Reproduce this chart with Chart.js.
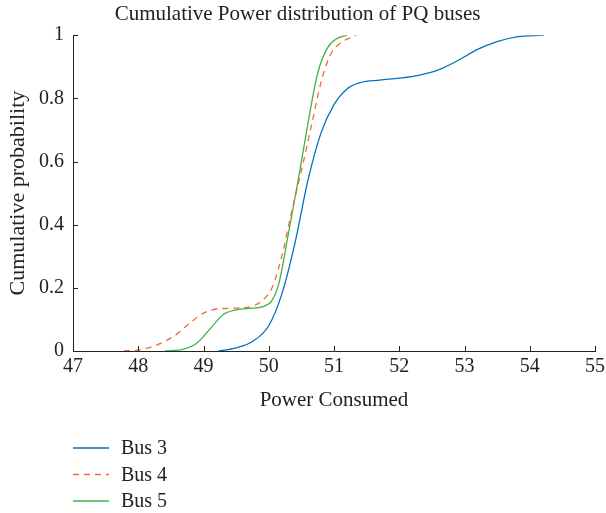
<!DOCTYPE html>
<html>
<head>
<meta charset="utf-8">
<script src="https://cdn.jsdelivr.net/npm/chart.js@4.4.0/dist/chart.umd.min.js"></script>
<style>
	html, body { margin: 0; padding: 0; background: #fff; }
	#wrap { width: 606px; height: 513px; }
</style>
</head>
<body>
<div id="wrap"><canvas id="chart1" width="606" height="513"></canvas></div>
<script>
// data
var seriesNames = ['Bus 3', 'Bus 4', 'Bus 5'];

var bus3X = [49.23, 49.5, 49.75, 50.0, 50.2, 50.4, 50.6, 50.8, 51.0, 51.2, 51.4, 51.7, 52.0, 52.3, 52.6, 52.9, 53.2, 53.5, 53.8, 54.22];
var bus3Y = [0, 0.01, 0.03, 0.08, 0.18, 0.34, 0.54, 0.69, 0.78, 0.83, 0.85, 0.858, 0.864, 0.873, 0.89, 0.92, 0.955, 0.98, 0.995, 1.0];

var bus4X = [47.78, 48.0, 48.2, 48.4, 48.6, 48.8, 49.0, 49.2, 49.5, 49.75, 49.9, 50.05, 50.2, 50.35, 50.5, 50.65, 50.8, 50.95, 51.1, 51.34];
var bus4Y = [0, 0.003, 0.012, 0.03, 0.055, 0.09, 0.12, 0.133, 0.136, 0.142, 0.16, 0.2, 0.3, 0.44, 0.57, 0.71, 0.85, 0.94, 0.975, 1.0];

var bus5X = [48.41, 48.7, 48.9, 49.1, 49.3, 49.5, 49.7, 49.9, 50.05, 50.15, 50.3, 50.45, 50.6, 50.75, 50.9, 51.05, 51.2];
var bus5Y = [0, 0.006, 0.025, 0.07, 0.115, 0.13, 0.135, 0.14, 0.16, 0.21, 0.37, 0.54, 0.72, 0.88, 0.96, 0.99, 1.0];

var xTicks = [47, 48, 49, 50, 51, 52, 53, 54, 55];
var yTicks = [0, 0.2, 0.4, 0.6, 0.8, 1];

var colors = ['#0072BD', '#F26B30', '#3CB44B'];
var serif = '"Liberation Serif", "DejaVu Serif", serif';

function pts(xs, ys) {
	var out = [];
	for (var i = 0; i < xs.length; i++) out.push({ x: xs[i], y: ys[i] });
	return out;
}

// inward tick marks + vertical legend
var extras = {
	id: 'extras',
	afterDraw: function(chart) {
		var c = chart.ctx;
		var xs = chart.scales.x, ys = chart.scales.y;
		var a = chart.chartArea;
		c.save();
		c.strokeStyle = '#222';
		c.lineWidth = 1;
		c.beginPath();
		xTicks.forEach(function(v) {
			var px = Math.round(xs.getPixelForValue(v)) + 0.5;
			c.moveTo(px, a.bottom);
			c.lineTo(px, a.bottom - 5);
		});
		yTicks.forEach(function(v) {
			var py = Math.round(ys.getPixelForValue(v)) + 0.5;
			c.moveTo(a.left, py);
			c.lineTo(a.left + 5, py);
		});
		c.stroke();

		// legend
		c.font = '20px ' + serif;
		c.textBaseline = 'middle';
		chart.data.datasets.forEach(function(ds, i) {
			var y = 448 + i * 26.5;
			c.strokeStyle = ds.borderColor;
			c.lineWidth = 1.3;
			c.setLineDash(ds.borderDash || []);
			c.beginPath();
			c.moveTo(73, y);
			c.lineTo(109, y);
			c.stroke();
			c.setLineDash([]);
			c.fillStyle = '#222';
			c.fillText(ds.label, 121, y + 1);
		});
		c.restore();
	}
};

var config1 = {
	type: 'line',
	data: {
		datasets: [
			{ label: seriesNames[0], data: pts(bus3X, bus3Y), borderColor: colors[0], borderWidth: 1.3, cubicInterpolationMode: 'monotone' },
			{ label: seriesNames[1], data: pts(bus4X, bus4Y), borderColor: colors[1], borderWidth: 1.3, borderDash: [6, 5], cubicInterpolationMode: 'monotone' },
			{ label: seriesNames[2], data: pts(bus5X, bus5Y), borderColor: colors[2], borderWidth: 1.3, cubicInterpolationMode: 'monotone' }
		]
	},
	options: {
		responsive: false,
		animation: false,
		elements: { point: { radius: 0 } },
		layout: { padding: { left: 0, right: 11, top: 0, bottom: 96 } },
		scales: {
			x: {
				type: 'linear',
				min: 47,
				max: 55,
				afterBuildTicks: function(s) { s.ticks = xTicks.map(function(v) { return { value: v }; }); },
				afterFit: function(s) { s.height = 66; s.paddingLeft = 0; s.paddingRight = 0; },
				grid: { display: true, drawOnChartArea: false, drawTicks: false },
				border: { color: '#222', width: 1 },
				ticks: { color: '#222', font: { family: serif, size: 20 }, padding: 4, maxRotation: 0 },
				title: { display: true, text: 'Power Consumed', color: '#222', font: { family: serif, size: 21 }, padding: { top: 10 } }
			},
			y: {
				min: 0,
				max: 1,
				afterBuildTicks: function(s) { s.ticks = yTicks.map(function(v) { return { value: v }; }); },
				afterFit: function(s) { s.width = 73; s.paddingTop = 0; s.paddingBottom = 0; },
				grid: { display: true, drawOnChartArea: false, drawTicks: false },
				border: { color: '#222', width: 1 },
				ticks: { color: '#222', font: { family: serif, size: 20 }, padding: 9,
					callback: function(v) { return String(Math.round(v * 10) / 10); } },
				title: { display: true, text: 'Cumulative probability', color: '#222', font: { family: serif, size: 22 }, padding: { top: 5, bottom: 0 } }
			}
		},
		plugins: {
			legend: { display: false },
			tooltip: { enabled: false },
			title: {
				display: true,
				text: 'Cumulative Power distribution of PQ buses',
				color: '#222',
				font: { family: serif, size: 21, weight: 'normal' },
				padding: { top: 2, bottom: 8 }
			}
		}
	},
	plugins: [extras]
};

var chart1 = new Chart(document.getElementById('chart1'), config1);
</script>
</body>
</html>
